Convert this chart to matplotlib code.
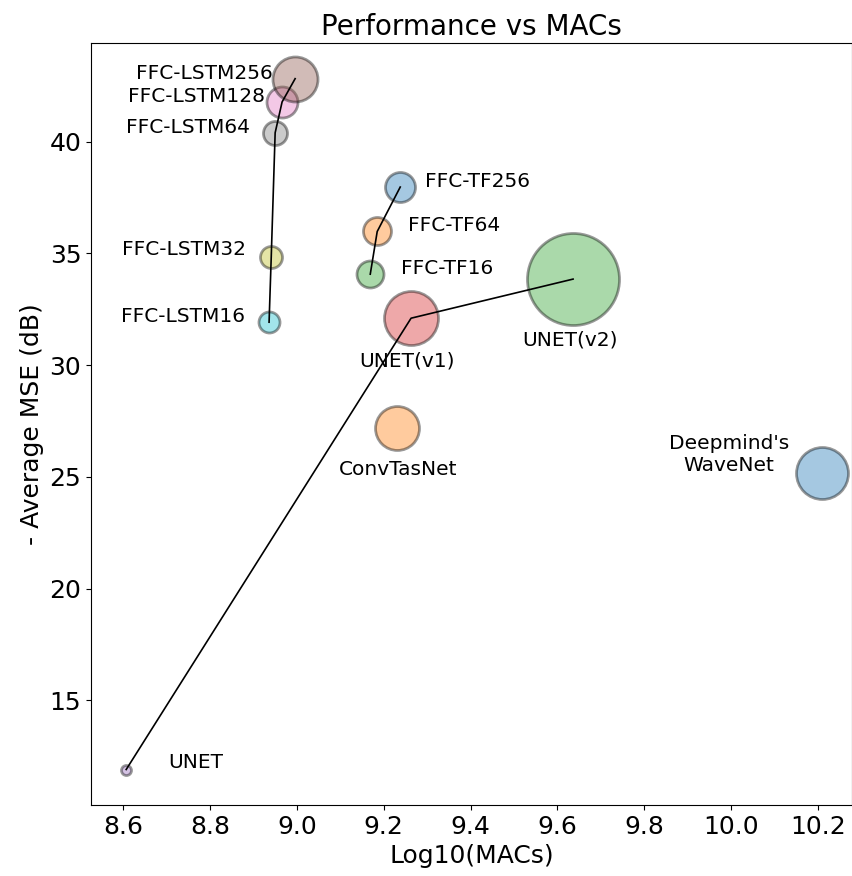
import matplotlib
matplotlib.use("Agg")
import matplotlib.pyplot as plt

# model names, log10(MACs), -MSE (dB), bubble size
names = ["UNET", "UNET(v1)", "UNET(v2)", "ConvTasNet", "Deepmind's\nWaveNet",
         "FFC-TF16", "FFC-TF64", "FFC-TF256",
         "FFC-LSTM16", "FFC-LSTM32", "FFC-LSTM64", "FFC-LSTM128", "FFC-LSTM256"]
macs = [8.607, 9.263, 9.636, 9.231, 10.209,
        9.169, 9.185, 9.238,
        8.936, 8.941, 8.950, 8.966, 8.996]
perf = [11.9, 32.1, 33.85, 27.2, 25.15,
        34.07, 35.98, 37.97,
        31.92, 34.85, 40.4, 41.78, 42.82]
sizes = [52, 1510, 4390, 1000, 1400,
         378, 406, 467,
         229, 251, 299, 498, 1050]
colors = ["tab:purple", "tab:red", "tab:green", "tab:orange", "tab:blue",
          "tab:green", "tab:orange", "tab:blue",
          "tab:cyan", "tab:olive", "tab:gray", "tab:pink", "tab:brown"]

# label offsets (points) and alignment
offsets = [(30, 5), (-3, -31), (-2, -44), (1, -30), (-67, 14),
           (22, 4), (22, 4), (18, 4),
           (-17, 4), (-18, 5), (-18, 4), (-12, 4), (-16, 4)]
aligns = ["left", "center", "center", "center", "center",
          "left", "left", "left",
          "right", "right", "right", "right", "right"]

# groups connected by lines
groups = [[0, 1, 2], [5, 6, 7], [8, 9, 10, 11, 12]]

fig = plt.figure(figsize=(8.53, 8.76), dpi=100)
ax = fig.add_axes([0.1067, 0.081, 0.892, 0.87])

for i in range(len(names)):
    ax.scatter(macs[i], perf[i], s=sizes[i], color=colors[i], alpha=0.4,
               edgecolors="black", linewidths=2, zorder=2)

for g in groups:
    ax.plot([macs[i] for i in g], [perf[i] for i in g], color="black", lw=1.2, zorder=3)

for i, name in enumerate(names):
    ax.annotate(name, (macs[i], perf[i]), xytext=offsets[i], textcoords="offset points",
                ha=aligns[i], va="center", fontsize=14.5, multialignment="center")

ax.set_xlim(8.526, 10.278)
ax.set_ylim(10.31, 44.42)
ax.set_xticks([8.6, 8.8, 9.0, 9.2, 9.4, 9.6, 9.8, 10.0, 10.2])
ax.set_yticks([15, 20, 25, 30, 35, 40])
ax.tick_params(labelsize=18)
ax.set_xlabel("Log10(MACs)", fontsize=18)
ax.set_ylabel("- Average MSE (dB)", fontsize=18)
ax.set_title("Performance vs MACs", fontsize=20)

fig.savefig("out.png", dpi=100)
